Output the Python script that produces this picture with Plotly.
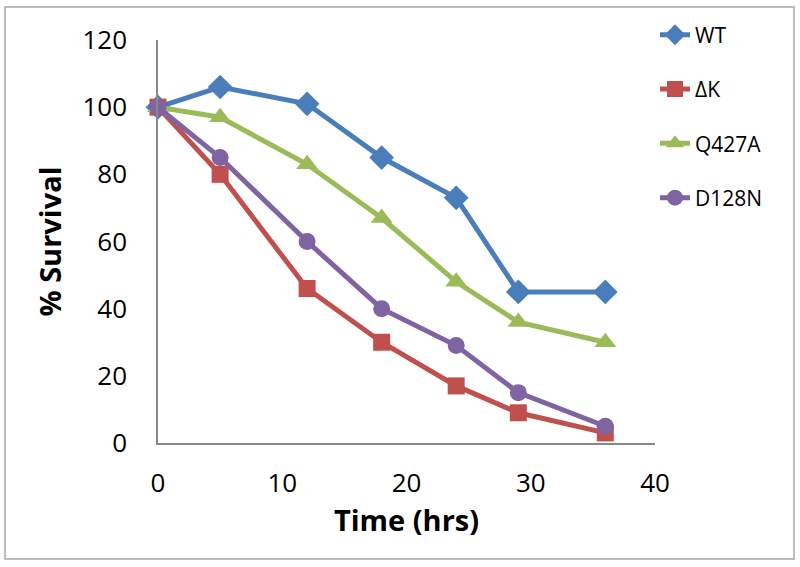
import plotly.graph_objects as go

time_hrs = [0, 5, 12, 18, 24, 29, 36]
wt = [100, 106, 101, 85, 73, 45, 45]
dk = [100, 80, 46, 30, 17, 9, 3]
q427a = [100, 97, 83, 67, 48, 36, 30]
d128n = [100, 85, 60, 40, 29, 15, 5]

series_names = ["WT", "ΔK", "Q427A", "D128N"]
series_values = [wt, dk, q427a, d128n]
colors = ["#4A7EBB", "#C0504D", "#9BBB59", "#8064A2"]
symbols = ["diamond", "square", "triangle-up", "circle"]
sizes = [19, 17, 19, 17]

fig = go.Figure()
for name, vals, c, s, sz in zip(series_names, series_values, colors, symbols, sizes):
    fig.add_trace(go.Scatter(
        x=time_hrs, y=vals, name=name, mode="lines+markers",
        line=dict(color=c, width=5),
        marker=dict(symbol=s, size=sz, color=c),
        legendgroup=name, cliponaxis=False,
    ))

fig.update_layout(
    width=800, height=567,
    paper_bgcolor="white", plot_bgcolor="white",
    margin=dict(l=158, r=145, t=40, b=124),
    font=dict(family="Open Sans", size=26, color="black"),
    showlegend=True,
    legend=dict(x=1.0, y=1.063, xanchor="left", yanchor="top",
                font=dict(size=21), tracegroupgap=24,
                bgcolor="rgba(0,0,0,0)"),
    xaxis=dict(range=[0, 40], tickvals=[0, 10, 20, 30, 40], showgrid=False,
               zeroline=False, showline=True, linecolor="#888888", linewidth=1.5,
               ticks="", ticklabelstandoff=16, automargin=False,
               title=dict(text="<b>Time (hrs)</b>", font=dict(size=29), standoff=12)),
    yaxis=dict(range=[0, 120], tickvals=[0, 20, 40, 60, 80, 100, 120], showgrid=False,
               zeroline=False, showline=True, linecolor="#888888", linewidth=1.5,
               ticks="", ticklabelstandoff=24, automargin=False,
               title=dict(text="<b>% Survival</b>", font=dict(size=29), standoff=12)),
    shapes=[dict(type="rect", xref="paper", yref="paper",
                 x0=(5 - 158) / 497, x1=(794 - 158) / 497,
                 y0=(443 - 559) / 403, y1=(443 - 7) / 403,
                 line=dict(color="#A6A6A6", width=1.5), fillcolor="rgba(0,0,0,0)",
                 layer="below")],
)

fig.write_html("out.html", config={"displayModeBar": False},
               post_script="document.body.style.margin='0px';")
